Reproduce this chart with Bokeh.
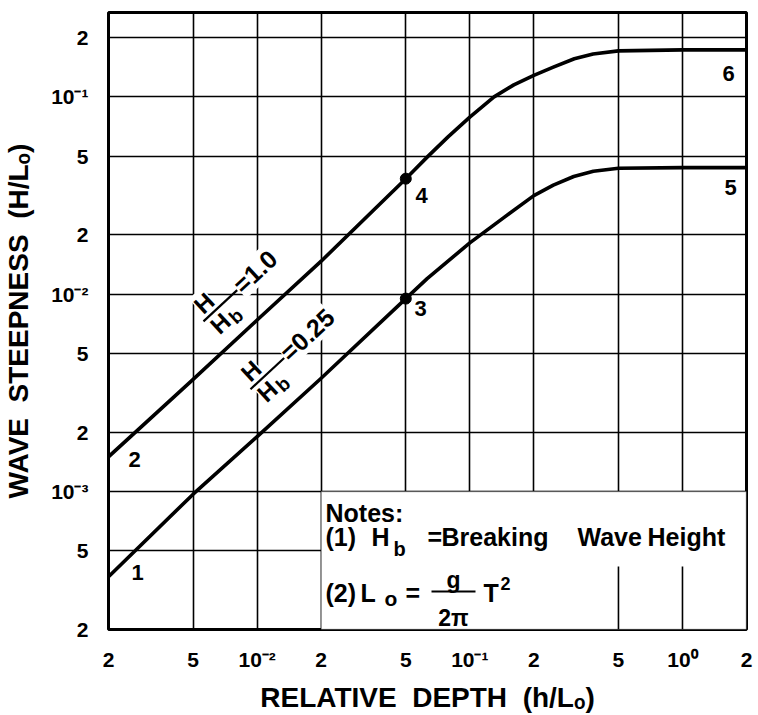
import math
from bokeh.plotting import figure
from bokeh.models import Label, BoxAnnotation, FixedTicker, Range1d
from bokeh.embed import file_html
from bokeh.resources import INLINE

# ---------------- data ----------------
x_ticks = [0.002, 0.005, 0.01, 0.02, 0.05, 0.1, 0.2, 0.5, 1.0, 2.0]
x_tick_labels = ["2", "5", "10\u207b\u00b2", "2", "5", "10\u207b\u00b9", "2", "5", "10\u2070", "2"]

y_ticks = [0.0002, 0.0005, 0.001, 0.002, 0.005, 0.01, 0.02, 0.05, 0.1, 0.2]
y_tick_labels = ["2", "5", "10\u207b\u00b3", "2", "5", "10\u207b\u00b2", "2", "5", "10\u207b\u00b9", "2"]

# H/Hb = 1.0
upper_x = [0.002, 0.005, 0.01, 0.02, 0.05, 0.063, 0.079, 0.1, 0.13, 0.161, 0.2, 0.247, 0.31, 0.38, 0.5, 1.0, 2.0]
upper_y = [0.0015, 0.0037, 0.0074, 0.0147, 0.0385, 0.0495, 0.0627, 0.079, 0.1, 0.115, 0.1285, 0.1415, 0.156, 0.165, 0.171, 0.173, 0.173]
# H/Hb = 0.25
lower_x = [0.002, 0.005, 0.01, 0.02, 0.05, 0.063, 0.1, 0.145, 0.2, 0.247, 0.308, 0.381, 0.5, 1.0, 2.0]
lower_y = [0.00037, 0.00097, 0.0019, 0.00375, 0.0095, 0.012, 0.0182, 0.0245, 0.0316, 0.0357, 0.0395, 0.042, 0.0435, 0.0438, 0.0438]

point_x = [0.05, 0.05]
point_y = [0.0385, 0.0095]

XMIN, XMAX = 0.002, 2.0
YMIN, YMAX = 0.0002, 0.2676

FONT = "Liberation Sans"

# frame geometry (px) used to place annotations
FL, FR, FT, FB = 108, 746, 12, 630
LXR = math.log10(XMAX / XMIN)
LYR = math.log10(YMAX / YMIN)


def dx(px):
    return 10 ** (math.log10(XMIN) + (px - FL) / (FR - FL) * LXR)


def dy(py):
    return 10 ** (math.log10(YMIN) + (FB - py) / (FB - FT) * LYR)


p = figure(width=758, height=715, x_axis_type="log", y_axis_type="log",
           x_range=Range1d(XMIN, XMAX), y_range=Range1d(YMIN, YMAX),
           output_backend="svg", toolbar_location=None,
           min_border_left=FL, min_border_right=758 - FR,
           min_border_top=FT, min_border_bottom=715 - FB)
p.background_fill_color = "white"
p.border_fill_color = "white"
p.outline_line_color = "black"
p.outline_line_width = 3
p.outline_line_alpha = 1

p.xaxis.ticker = FixedTicker(ticks=x_ticks)
p.yaxis.ticker = FixedTicker(ticks=y_ticks)
p.xaxis.major_label_overrides = {t: s for t, s in zip(x_ticks, x_tick_labels)}
p.yaxis.major_label_overrides = {t: s for t, s in zip(y_ticks, y_tick_labels)}
for ax in (p.xaxis, p.yaxis):
    ax.axis_line_color = None
    ax.major_tick_line_color = None
    ax.minor_tick_line_color = None
    ax.major_tick_out = 0
    ax.major_tick_in = 0
    ax.minor_tick_out = 0
    ax.major_label_text_font = FONT
    ax.major_label_text_font_size = "21px"
    ax.major_label_text_font_style = "bold"
    ax.major_label_text_color = "black"
    ax.axis_label_text_font = FONT
    ax.axis_label_text_font_size = "28px"
    ax.axis_label_text_font_style = "bold"
    ax.axis_label_text_color = "black"
p.xaxis.major_label_standoff = 18
p.yaxis.major_label_standoff = 20
p.xaxis.axis_label = "RELATIVE\u00a0\u00a0DEPTH\u00a0\u00a0(h/L\u2092)"
p.yaxis.axis_label = "WAVE\u00a0\u00a0STEEPNESS\u00a0\u00a0(H/L\u2092)"
p.xaxis.axis_label_standoff = 8
p.yaxis.axis_label_standoff = 14

p.xgrid.ticker = FixedTicker(ticks=x_ticks)
p.ygrid.ticker = FixedTicker(ticks=y_ticks)
for g in (p.xgrid, p.ygrid):
    g.grid_line_color = "black"
    g.grid_line_width = 1.6
    g.grid_line_alpha = 1

# notes box (covers the grid in the lower right)
p.add_layout(BoxAnnotation(left=x_ticks[3], right=XMAX, bottom=YMIN, top=y_ticks[2],
                           fill_color="white", fill_alpha=1, line_color="black",
                           line_width=1.6, level="underlay"))
p.segment(x0=[x_ticks[7], x_ticks[8]], y0=[YMIN, YMIN],
          x1=[x_ticks[7], x_ticks[8]], y1=[dy(567), dy(567)],
          line_color="black", line_width=1.6)

# curves and points
p.line(upper_x, upper_y, line_color="black", line_width=3.6, line_join="round")
p.line(lower_x, lower_y, line_color="black", line_width=3.6, line_join="round")
p.scatter(point_x, point_y, size=11, color="black")


def lab(px, py, text, size, align="left", baseline="alphabetic", angle=0.0, bg=None):
    p.add_layout(Label(x=dx(px), y=dy(py), text=text, text_font=FONT,
                       text_font_size=f"{size}px", text_font_style="bold",
                       text_color="black", text_align=align, text_baseline=baseline,
                       angle=angle, background_fill_color=bg))


# curve labels (rotated fractions)
dec_x = (FR - FL) / LXR
dec_y = (FB - FT) / LYR
TH = math.atan2(dec_y, dec_x)
UD = (math.cos(TH), -math.sin(TH))
VD = (-math.sin(TH), -math.cos(TH))


def rot(cx, cy, u, v):
    return cx + u * UD[0] + v * VD[0], cy + u * UD[1] + v * VD[1]


def frac_label(cx, cy, rest):
    x, y = rot(cx, cy, 0, 13)
    lab(x, y, "H", 24, align="center", baseline="middle", angle=TH, bg="white")
    x, y = rot(cx, cy, -2, -13)
    lab(x, y, "H", 24, align="center", baseline="middle", angle=TH, bg="white")
    x, y = rot(cx, cy, 8.5, -18.5)
    lab(x, y, "b", 19, align="left", baseline="middle", angle=TH, bg="white")
    x, y = rot(cx, cy, 34, 1.5)
    lab(x, y, rest, 25, align="left", baseline="middle", angle=TH, bg="white")
    x0, y0 = rot(cx, cy, -13, 0)
    x1, y1 = rot(cx, cy, 33, 0)
    r = p.segment(x0=[dx(x0)], y0=[dy(y0)], x1=[dx(x1)], y1=[dy(y1)],
                  line_color="black", line_width=2.2)
    r.level = "overlay"


frac_label(212.5, 312.5, "=1.0")
frac_label(259.5, 380.5, "=0.25")

# point numbers
for txt, px, py in [("1", 137, 573), ("2", 134, 460), ("3", 420, 308),
                    ("4", 421, 195), ("5", 730, 187), ("6", 728, 73)]:
    lab(px, py, txt, 22, align="center", baseline="middle")

# notes
NF = 25
lab(325, 513, "Notes:", NF)
lab(325, 537, "(1)", NF)
lab(371, 537, "H", NF)
lab(393, 549, "b", 20)
lab(427, 537, "=", NF)
lab(441, 537, "Breaking", NF)
lab(577, 537, "Wave", NF)
lab(647, 537, "Height", NF)
lab(325, 593, "(2)", NF)
lab(360, 593, "L", NF)
lab(384, 599, "o", 21)
lab(405, 593, "=", NF)
lab(453, 580, "g", 23, align="center")
lab(453, 618, "2\u03c0", 23, align="center")
lab(483, 593, "T", NF)
lab(500, 584, "2", 18)
nb = p.segment(x0=[dx(431)], y0=[dy(592)], x1=[dx(475)], y1=[dy(592)],
               line_color="black", line_width=2)
nb.level = "overlay"

open("out.html", "w").write(file_html(p, INLINE))
